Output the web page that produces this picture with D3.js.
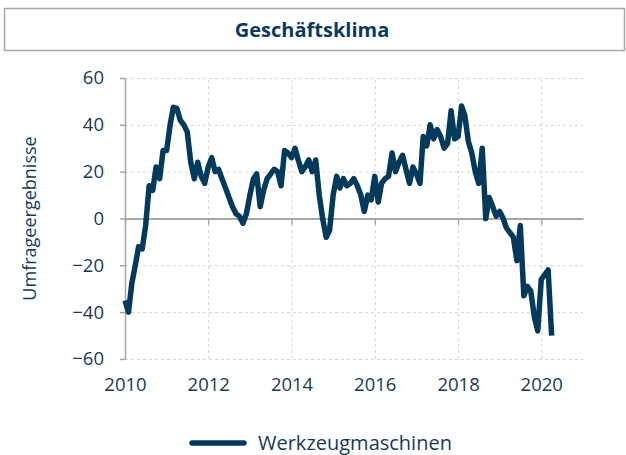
<!DOCTYPE html>
<html>
<head>
<meta charset="utf-8">
<script src="https://cdn.jsdelivr.net/npm/d3@7"></script>
<style>
  body { margin: 0; background: #fff; }
  svg { display: block; }
</style>
</head>
<body>
<svg width="626" height="455"></svg>
<script>
const title = "Geschäftsklima";
const seriesName = "Werkzeugmaschinen";
const yLabel = "Umfrageergebnisse";
const startYear = 2010;
// monthly values, Jan 2010 .. Apr 2020
const values = [
  -35, -40, -28, -20, -12, -13, -3, 14, 12, 22, 17, 29,   // 2010
  29, 40, 47.5, 47, 42, 40, 37, 24, 17, 24, 18, 15,       // 2011
  22, 26, 20, 21, 17, 13, 9, 5, 2, 1, -2, 2,              // 2012
  10, 17, 19, 5, 12, 17, 19, 21, 20, 14, 29, 28,          // 2013
  26, 30, 25, 20, 22, 25, 20, 25, 10, 0, -8, -5,          // 2014
  10, 18, 13, 17, 14, 15, 17, 14, 10, 3, 10, 8,           // 2015
  18, 7, 15, 17, 18, 28, 20, 24, 27, 21, 15, 22,          // 2016
  19, 15, 35, 31, 40, 34, 38, 35, 30, 32, 46, 34,         // 2017
  35, 48, 44, 33, 28, 20, 15, 30, 0, 9, 5, 1,             // 2018
  3, 0, -4, -6, -8, -18, -3, -33, -29, -31, -42, -48,     // 2019
  -26, -24, -22, -50                                      // 2020
];
const yTicks = [-60, -40, -20, 0, 20, 40, 60];
const xTicks = [2010, 2012, 2014, 2016, 2018, 2020];
const xGrid = [2012, 2014, 2016, 2018, 2020];

const fontFamily = "'Open Sans', sans-serif";
const lineColor = "#033a5b";
const textColor = "#173a5a";
const axisGray = "#a6a6a6";
const gridGray = "#d3d3d3";

const svg = d3.select("svg");
const margin = { left: 125, right: 43, top: 78, bottom: 96 };
const width = +svg.attr("width");
const height = +svg.attr("height");
const innerWidth = width - margin.left - margin.right;
const innerHeight = height - margin.top - margin.bottom;

const data = values.map((v, i) => ({ date: new Date(startYear, i, 1), value: v }));

const xScale = d3.scaleTime()
  .domain([new Date(2010, 0, 1), new Date(2021, 0, 1)])
  .range([0, innerWidth]);
const yScale = d3.scaleLinear().domain([-60, 60]).range([innerHeight, 0]);

// title box
svg.append("rect")
  .attr("x", 4.5).attr("y", 8.5)
  .attr("width", 620).attr("height", 42)
  .attr("fill", "#fff")
  .attr("stroke", axisGray)
  .attr("stroke-width", 1.5);
svg.append("text")
  .attr("x", 312).attr("y", 37)
  .attr("text-anchor", "middle")
  .attr("font-family", fontFamily)
  .attr("font-weight", "bold")
  .attr("font-size", 20)
  .attr("fill", "#0d3a5c")
  .text(title);

const g = svg.append("g").attr("transform", `translate(${margin.left},${margin.top})`);

// horizontal grid
g.append("g")
  .call(d3.axisLeft(yScale).tickValues(yTicks.filter(d => d !== 0)).tickSize(-innerWidth).tickFormat(""))
  .call(s => s.select(".domain").remove())
  .call(s => s.selectAll(".tick text").remove())
  .selectAll(".tick line")
  .attr("stroke", gridGray)
  .attr("stroke-dasharray", "3,3");

// vertical grid
g.append("g")
  .attr("transform", `translate(0,${innerHeight})`)
  .call(d3.axisBottom(xScale).tickValues(xGrid.map(y => new Date(y, 0, 1))).tickSize(-innerHeight).tickFormat(""))
  .call(s => s.select(".domain").remove())
  .call(s => s.selectAll(".tick text").remove())
  .selectAll(".tick line")
  .attr("stroke", gridGray)
  .attr("stroke-dasharray", "3,3");

// y axis
const yAxisG = g.append("g")
  .call(d3.axisLeft(yScale).tickValues(yTicks).tickSize(5).tickPadding(16).tickSizeOuter(0))
  .attr("font-family", fontFamily)
  .attr("font-size", 18.5);
yAxisG.select(".domain").attr("stroke", axisGray).attr("stroke-width", 1.5);
yAxisG.selectAll(".tick line").attr("stroke", axisGray).attr("stroke-width", 1.5);
yAxisG.selectAll("text").attr("fill", textColor);

// x axis line at zero
const xAxisG = g.append("g")
  .attr("transform", `translate(0,${yScale(0)})`)
  .call(d3.axisBottom(xScale).tickValues(xTicks.map(y => new Date(y, 0, 1))).tickSize(6).tickSizeOuter(0).tickFormat(""));
xAxisG.selectAll(".tick text").remove();
xAxisG.select(".domain").attr("stroke", axisGray).attr("stroke-width", 2);
xAxisG.selectAll(".tick line").attr("stroke", axisGray).attr("stroke-width", 1.5);

// x tick labels at bottom
const xLabelG = g.append("g")
  .attr("transform", `translate(0,${innerHeight})`)
  .call(d3.axisBottom(xScale).tickValues(xTicks.map(y => new Date(y, 0, 1))).tickSize(0).tickPadding(19).tickFormat(d3.timeFormat("%Y")))
  .attr("font-family", fontFamily)
  .attr("font-size", 18.5);
xLabelG.select(".domain").remove();
xLabelG.selectAll("text").attr("fill", textColor);

// y label
svg.append("text")
  .attr("transform", `translate(36,${margin.top + innerHeight / 2}) rotate(-90)`)
  .attr("text-anchor", "middle")
  .attr("font-family", fontFamily)
  .attr("font-size", 18)
  .attr("fill", textColor)
  .text(yLabel);

// series
const line = d3.line().x(d => xScale(d.date)).y(d => yScale(d.value));
g.append("path")
  .datum(data)
  .attr("fill", "none")
  .attr("stroke", lineColor)
  .attr("stroke-width", 5.5)
  .attr("stroke-linejoin", "round")
  .attr("d", line);

// legend
const legend = svg.append("g").attr("transform", "translate(192,443)");
legend.append("line")
  .attr("x1", 0).attr("x2", 52)
  .attr("stroke", lineColor)
  .attr("stroke-width", 5.5)
  .attr("stroke-linecap", "round");
legend.append("text")
  .attr("x", 66).attr("y", 7)
  .attr("font-family", fontFamily)
  .attr("font-size", 20)
  .attr("fill", textColor)
  .text(seriesName);
</script>
</body>
</html>
